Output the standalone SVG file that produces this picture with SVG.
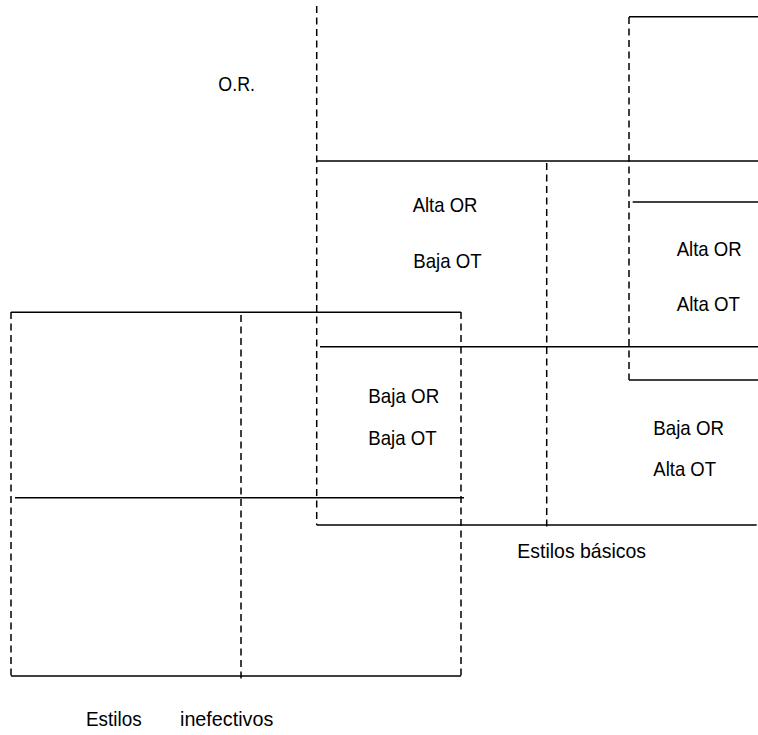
<svg xmlns="http://www.w3.org/2000/svg" width="758" height="735" viewBox="0 0 758 735">
<style>
.s{stroke:#000;stroke-width:1.5;fill:none}
.d{stroke:#000;stroke-width:1.5;fill:none;stroke-dasharray:7 4.5}
text{font-family:"Liberation Sans","DejaVu Sans",sans-serif;font-size:21px;fill:#000}
</style>
<rect width="758" height="735" fill="#fff"/>
<g id="connectors">
<line class="d" x1="316.7" y1="6" x2="316.7" y2="525"/>
<line class="d" x1="546.7" y1="163" x2="546.7" y2="528"/>
<line class="d" x1="629" y1="17" x2="629" y2="380"/>
<line class="d" x1="11" y1="312" x2="11" y2="676"/>
<line class="d" x1="461" y1="312" x2="461" y2="676"/>
<line class="d" x1="241" y1="315" x2="241" y2="680"/>
</g>
<g id="box-alta-alta">
<line class="s" x1="629" y1="16.7" x2="758" y2="16.7"/>
<line class="s" x1="632.7" y1="202" x2="758" y2="202"/>
<line class="s" x1="629" y1="380" x2="758" y2="380"/>
<text x="676.7" y="255.7" textLength="65" lengthAdjust="spacingAndGlyphs">Alta OR</text>
<text x="676.7" y="310.7" textLength="63.3" lengthAdjust="spacingAndGlyphs">Alta OT</text>
</g>
<g id="box-basicos">
<line class="s" x1="316.7" y1="161" x2="758" y2="161"/>
<line class="s" x1="320" y1="346.7" x2="758" y2="346.7"/>
<line class="s" x1="316.7" y1="525" x2="756.7" y2="525"/>
<text x="412.7" y="211.7" textLength="64.7" lengthAdjust="spacingAndGlyphs">Alta OR</text>
<text x="413.3" y="268.3" textLength="68.3" lengthAdjust="spacingAndGlyphs">Baja OT</text>
<text x="368.3" y="403.3" textLength="71" lengthAdjust="spacingAndGlyphs">Baja OR</text>
<text x="368.3" y="445" textLength="68.3" lengthAdjust="spacingAndGlyphs">Baja OT</text>
<text x="653.3" y="435" textLength="70.7" lengthAdjust="spacingAndGlyphs">Baja OR</text>
<text x="653.3" y="475.7" textLength="62.7" lengthAdjust="spacingAndGlyphs">Alta OT</text>
<text x="517.3" y="557.7" textLength="128.7" lengthAdjust="spacingAndGlyphs">Estilos básicos</text>
</g>
<g id="label-or">
<text x="218.3" y="90.7" textLength="36.7" lengthAdjust="spacingAndGlyphs">O.R.</text>
</g>
<g id="box-inefectivos">
<line class="s" x1="11" y1="312.3" x2="461" y2="312.3"/>
<line class="s" x1="15" y1="497.7" x2="464" y2="497.7"/>
<line class="s" x1="11" y1="676" x2="461" y2="676"/>
<text x="86" y="726" textLength="55.7" lengthAdjust="spacingAndGlyphs">Estilos</text>
<text x="180" y="726" textLength="93.3" lengthAdjust="spacingAndGlyphs">inefectivos</text>
</g>
</svg>
